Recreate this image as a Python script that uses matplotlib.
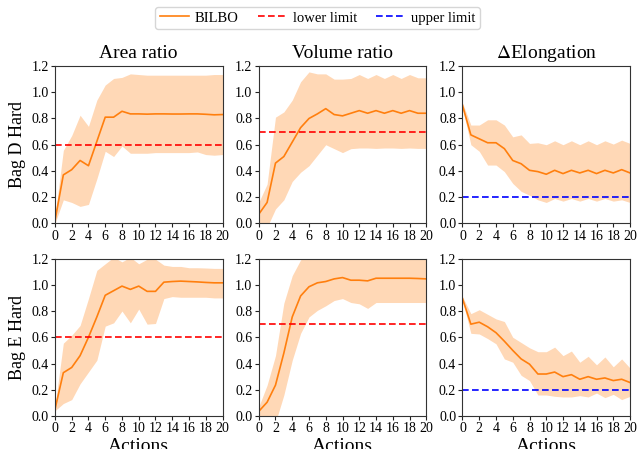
import numpy as np
import matplotlib
matplotlib.use('Agg')
import matplotlib.pyplot as plt

plt.rcParams['font.family'] = 'serif'
plt.rcParams['font.serif'] = ['Liberation Serif', 'DejaVu Serif']
plt.rcParams['mathtext.fontset'] = 'stix'

actions = list(range(21))
titles = ['Area ratio', 'Volume ratio', r'$\Delta$Elongation']
row_labels = ['Bag D Hard', 'Bag E Hard']

# Bag D Hard
d_area_mean = [0.02, 0.37, 0.41, 0.48, 0.44, 0.625, 0.81, 0.81, 0.855, 0.835, 0.835, 0.833, 0.835, 0.835, 0.834, 0.834, 0.835, 0.835, 0.832, 0.828, 0.83]
d_area_up = [0.05, 0.557, 0.67, 0.825, 0.74, 0.94, 1.055, 1.105, 1.113, 1.14, 1.135, 1.13, 1.13, 1.13, 1.13, 1.13, 1.13, 1.13, 1.13, 1.135, 1.135]
d_area_lo = [0.0, 0.18, 0.16, 0.13, 0.145, 0.34, 0.55, 0.51, 0.59, 0.535, 0.535, 0.535, 0.54, 0.54, 0.54, 0.54, 0.54, 0.545, 0.525, 0.52, 0.525]

d_vol_mean = [0.07, 0.16, 0.46, 0.51, 0.62, 0.73, 0.80, 0.835, 0.875, 0.83, 0.82, 0.84, 0.86, 0.84, 0.86, 0.84, 0.86, 0.84, 0.86, 0.84, 0.84]
d_vol_up = [0.16, 0.30, 0.81, 0.85, 0.94, 1.08, 1.155, 1.14, 1.14, 1.10, 1.10, 1.105, 1.135, 1.105, 1.135, 1.105, 1.135, 1.105, 1.135, 1.11, 1.11]
d_vol_lo = [0.0, -0.03, 0.11, 0.18, 0.32, 0.39, 0.44, 0.52, 0.60, 0.57, 0.54, 0.57, 0.575, 0.575, 0.572, 0.575, 0.575, 0.572, 0.575, 0.572, 0.572]

d_elo_mean = [0.90, 0.675, 0.645, 0.615, 0.615, 0.57, 0.48, 0.455, 0.405, 0.395, 0.375, 0.405, 0.38, 0.405, 0.385, 0.405, 0.38, 0.405, 0.385, 0.41, 0.385]
d_elo_up = [0.92, 0.75, 0.75, 0.79, 0.79, 0.75, 0.66, 0.675, 0.61, 0.615, 0.60, 0.63, 0.60, 0.63, 0.60, 0.63, 0.60, 0.63, 0.605, 0.635, 0.61]
d_elo_lo = [0.88, 0.60, 0.55, 0.445, 0.445, 0.395, 0.305, 0.245, 0.215, 0.18, 0.16, 0.19, 0.17, 0.19, 0.17, 0.19, 0.17, 0.19, 0.17, 0.18, 0.16]

# Bag E Hard
e_area_mean = [0.05, 0.33, 0.37, 0.46, 0.60, 0.755, 0.92, 0.955, 0.99, 0.965, 0.99, 0.95, 0.95, 1.02, 1.025, 1.028, 1.025, 1.022, 1.018, 1.015, 1.015]
e_area_up = [0.07, 0.555, 0.615, 0.69, 0.895, 1.11, 1.16, 1.21, 1.175, 1.21, 1.16, 1.195, 1.195, 1.15, 1.14, 1.14, 1.13, 1.13, 1.128, 1.125, 1.125]
e_area_lo = [0.04, 0.095, 0.125, 0.245, 0.335, 0.425, 0.685, 0.71, 0.80, 0.71, 0.815, 0.70, 0.705, 0.895, 0.91, 0.905, 0.905, 0.905, 0.905, 0.90, 0.90]

e_vol_mean = [0.035, 0.105, 0.235, 0.48, 0.755, 0.915, 0.985, 1.015, 1.025, 1.045, 1.055, 1.035, 1.035, 1.03, 1.05, 1.05, 1.05, 1.05, 1.05, 1.048, 1.045]
e_vol_up = [0.07, 0.235, 0.46, 0.86, 1.07, 1.19, 1.25, 1.25, 1.25, 1.25, 1.25, 1.25, 1.25, 1.25, 1.25, 1.25, 1.25, 1.25, 1.25, 1.25, 1.25]
e_vol_lo = [0.0, -0.1, -0.05, 0.16, 0.425, 0.63, 0.755, 0.805, 0.84, 0.88, 0.895, 0.865, 0.855, 0.82, 0.865, 0.865, 0.865, 0.865, 0.865, 0.865, 0.865]

e_elo_mean = [0.895, 0.70, 0.715, 0.68, 0.635, 0.57, 0.50, 0.435, 0.395, 0.32, 0.32, 0.335, 0.30, 0.315, 0.28, 0.30, 0.28, 0.29, 0.27, 0.28, 0.255]
e_elo_up = [0.91, 0.78, 0.81, 0.775, 0.74, 0.72, 0.60, 0.56, 0.52, 0.49, 0.49, 0.525, 0.46, 0.495, 0.41, 0.455, 0.39, 0.45, 0.375, 0.435, 0.365]
e_elo_lo = [0.88, 0.63, 0.625, 0.59, 0.55, 0.435, 0.41, 0.31, 0.27, 0.16, 0.16, 0.15, 0.145, 0.145, 0.155, 0.145, 0.175, 0.14, 0.165, 0.125, 0.15]

limits = [0.6, 0.7, 0.2]

data = [
    [(d_area_mean, d_area_lo, d_area_up), (d_vol_mean, d_vol_lo, d_vol_up), (d_elo_mean, d_elo_lo, d_elo_up)],
    [(e_area_mean, e_area_lo, e_area_up), (e_vol_mean, e_vol_lo, e_vol_up), (e_elo_mean, e_elo_lo, e_elo_up)],
]

fig, axes = plt.subplots(2, 3, figsize=(6.39, 4.49), dpi=100)
plt.subplots_adjust(left=0.086, right=0.986, top=0.853, bottom=0.0735, wspace=0.216, hspace=0.223)

for r in range(2):
    for c in range(3):
        ax = axes[r, c]
        mean, lo, up = data[r][c]
        ax.fill_between(actions, lo, up, color='#ff7f0e', alpha=0.3, linewidth=0)
        ax.plot(actions, mean, color='#ff7f0e', lw=1.2, label='BILBO')
        if c == 2:
            ax.axhline(limits[c], color='blue', ls='--', lw=1.2, dashes=(4, 2), label='upper limit')
        else:
            ax.axhline(limits[c], color='red', ls='--', lw=1.2, dashes=(4, 2), label='lower limit')
        ax.set_xlim(0, 20)
        ax.set_ylim(0, 1.2)
        ax.set_xticks(range(0, 21, 2))
        ax.set_yticks(np.arange(0, 1.21, 0.2))
        ax.set_xticklabels([str(v) for v in range(0, 21, 2)], fontfamily='Liberation Serif')
        ax.set_yticklabels(['%.1f' % v for v in np.arange(0, 1.21, 0.2)], fontfamily='Liberation Serif')
        ax.tick_params(labelsize=10, length=3, pad=1.5, color='#222222')
        for s in ax.spines.values():
            s.set_color('#333333')
        if r == 0:
            ax.set_title(titles[c], fontsize=14, pad=6)
        else:
            ax.set_xlabel('Actions', fontsize=14, labelpad=2)
        if c == 0:
            ax.set_ylabel(row_labels[r], fontsize=13, labelpad=4)

h1, l1 = axes[0, 0].get_legend_handles_labels()
h2, l2 = axes[0, 2].get_legend_handles_labels()
fig.legend(h1 + h2[1:], l1 + l2[1:], loc='center', bbox_to_anchor=(0.497, 0.96), ncol=3,
           fontsize=10.5, frameon=True, handlelength=2.0, columnspacing=1.3, handletextpad=0.4,
           borderpad=0.3, fancybox=True)

fig.savefig('out.png', dpi=100)
